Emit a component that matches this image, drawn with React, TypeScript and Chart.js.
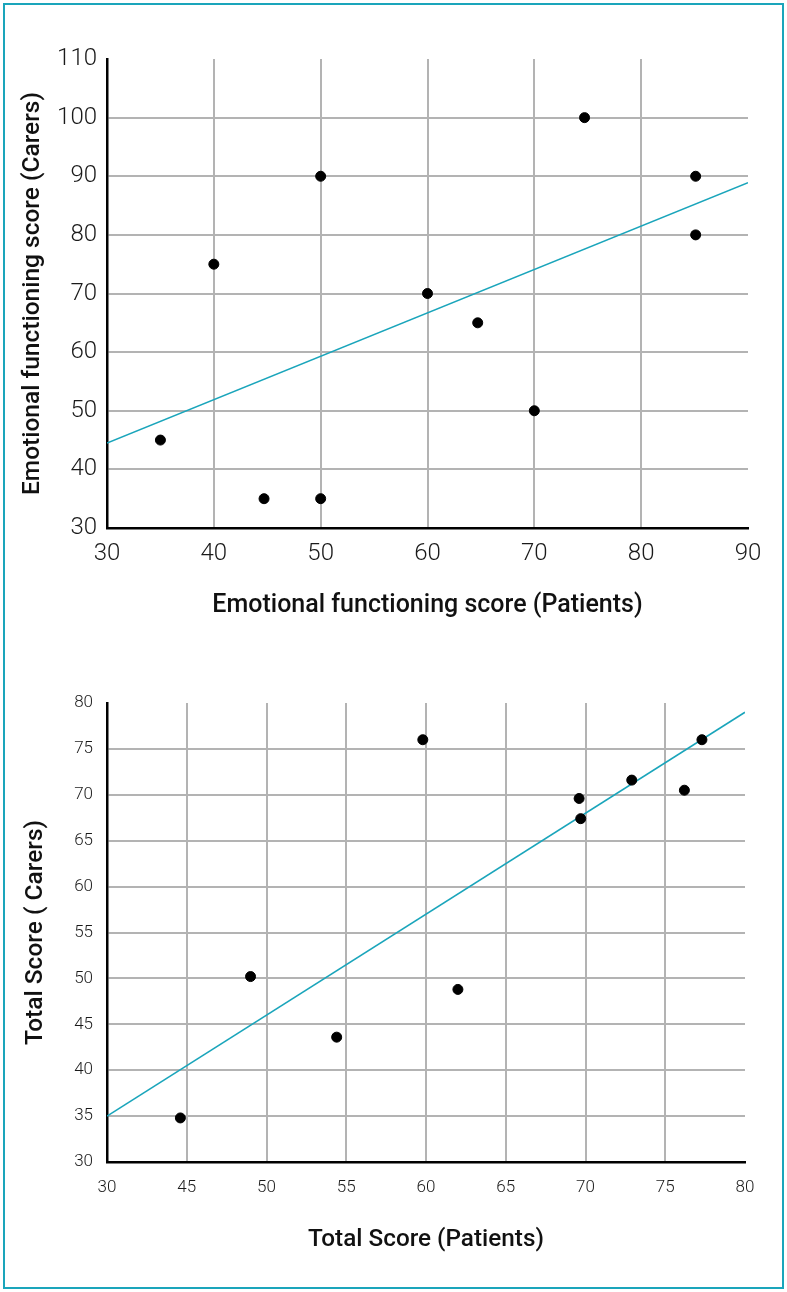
import React, { useEffect, useRef } from "react";
import { Chart, registerables } from "chart.js";

Chart.register(...registerables);

// ---------- Chart 1: Emotional functioning ----------
const topPatients = [35, 40, 44.7, 50, 50, 60, 64.7, 70, 74.7, 85.1, 85.1];
const topCarers = [45, 75, 35, 35, 90, 70, 65, 50, 100, 90, 80];
const topTrendX = [30, 90];
const topTrendY = [44.5, 88.9];
const topXTicks = [30, 40, 50, 60, 70, 80, 90];
const topYTicks = [30, 40, 50, 60, 70, 80, 90, 100, 110];
const topXTitle = "Emotional functioning score (Patients)";
const topYTitle = "Emotional functioning score (Carers)";

// ---------- Chart 2: Total score ----------
const bottomPatients = [44.6, 49, 54.4, 59.8, 62, 69.6, 69.7, 72.9, 76.2, 77.3];
const bottomCarers = [34.8, 50.2, 43.6, 76, 48.8, 69.6, 67.4, 71.6, 70.5, 76];
const bottomTrendX = [40, 80];
const bottomTrendY = [35, 79];
const bottomXTickValues = [40, 45, 50, 55, 60, 65, 70, 75, 80];
const bottomXTickLabels = ["30", "45", "50", "55", "60", "65", "70", "75", "80"];
const bottomYTicks = [30, 35, 40, 45, 50, 55, 60, 65, 70, 75, 80];
const bottomXTitle = "Total Score (Patients)";
const bottomYTitle = "Total Score ( Carers)";

const TEAL = "#1aa5bb";
const GRID = "#b3b3b3";
const FONT = "Roboto, 'Noto Sans', 'DejaVu Sans', sans-serif";

type Cfg = {
  xs: number[];
  ys: number[];
  trendX: number[];
  trendY: number[];
  xTickValues: number[];
  xTickLabels: string[];
  yTickValues: number[];
  xTitle: string;
  yTitle: string;
  xMin: number;
  xMax: number;
  yMin: number;
  yMax: number;
  tickSize: number;
  yAxisWidth: number;
  xAxisHeight: number;
  padTop: number;
  padRight: number;
  yTickPad: number;
  xTickPad: number;
  yTitlePad: number;
  xTitlePad: number;
  xTitleSize: number;
  yTitleSize: number;
};

function makeChart(canvas: HTMLCanvasElement, c: Cfg) {
  return new Chart(canvas, {
    type: "scatter",
    data: {
      datasets: [
        {
          label: "points",
          data: c.xs.map((x, i) => ({ x, y: c.ys[i] })),
          backgroundColor: "#000",
          borderColor: "#000",
          pointRadius: 5,
          pointHoverRadius: 5,
          showLine: false,
        },
        {
          type: "line",
          label: "trend",
          data: c.trendX.map((x, i) => ({ x, y: c.trendY[i] })),
          borderColor: TEAL,
          borderWidth: 1.6,
          pointRadius: 0,
          fill: false,
        } as any,
      ],
    },
    options: {
      animation: false,
      responsive: false,
      events: [],
      layout: {
        padding: { top: c.padTop, right: c.padRight, bottom: 0, left: 0 },
      },
      plugins: {
        legend: { display: false },
        tooltip: { enabled: false },
      },
      scales: {
        x: {
          type: "linear",
          min: c.xMin,
          max: c.xMax,
          afterBuildTicks: (s: any) => {
            s.ticks = c.xTickValues.map((v) => ({ value: v }));
          },
          afterFit: (s: any) => {
            s.height = c.xAxisHeight;
          },
          ticks: {
            autoSkip: false,
            maxRotation: 0,
            padding: c.xTickPad,
            color: "#1a1a1a",
            font: { family: FONT, size: c.tickSize, weight: "300" as any },
            callback: (_v: any, i: number) => c.xTickLabels[i],
          },
          grid: {
            drawTicks: false,
            lineWidth: 2,
            color: (ctx: any) =>
              ctx.tick && ctx.tick.value === c.xMax ? "rgba(0,0,0,0)" : GRID,
          },
          border: { color: "#000", width: 2.5 },
          title: {
            display: true,
            text: c.xTitle,
            color: "#111",
            font: { family: FONT, size: c.xTitleSize, weight: "500" as any },
            padding: { top: 0, bottom: c.xTitlePad },
          },
        },
        y: {
          type: "linear",
          min: c.yMin,
          max: c.yMax,
          afterBuildTicks: (s: any) => {
            s.ticks = c.yTickValues.map((v) => ({ value: v }));
          },
          afterFit: (s: any) => {
            s.width = c.yAxisWidth;
          },
          ticks: {
            autoSkip: false,
            padding: c.yTickPad,
            color: "#1a1a1a",
            font: { family: FONT, size: c.tickSize, weight: "300" as any },
          },
          grid: {
            drawTicks: false,
            lineWidth: 2,
            color: (ctx: any) =>
              ctx.tick && ctx.tick.value === c.yMax ? "rgba(0,0,0,0)" : GRID,
          },
          border: { color: "#000", width: 2.5 },
          title: {
            display: true,
            text: c.yTitle,
            color: "#111",
            font: { family: FONT, size: c.yTitleSize, weight: "500" as any },
            padding: { top: c.yTitlePad, bottom: 0 },
          },
        },
      },
    },
  });
}

export default function App() {
  const topRef = useRef<HTMLCanvasElement>(null);
  const bottomRef = useRef<HTMLCanvasElement>(null);

  useEffect(() => {
    const charts: Chart[] = [];
    if (topRef.current) {
      charts.push(
        makeChart(topRef.current, {
          xs: topPatients,
          ys: topCarers,
          trendX: topTrendX,
          trendY: topTrendY,
          xTickValues: topXTicks,
          xTickLabels: topXTicks.map(String),
          yTickValues: topYTicks,
          xTitle: topXTitle,
          yTitle: topYTitle,
          xMin: 30,
          xMax: 90,
          yMin: 30,
          yMax: 110,
          tickSize: 24,
          yAxisWidth: 107,
          xAxisHeight: 112,
          padTop: 59,
          padRight: 39,
          yTickPad: 10,
          xTickPad: 12,
          yTitlePad: 18,
          xTitlePad: 19,
          xTitleSize: 25,
          yTitleSize: 24.5,
        })
      );
    }
    if (bottomRef.current) {
      charts.push(
        makeChart(bottomRef.current, {
          xs: bottomPatients,
          ys: bottomCarers,
          trendX: bottomTrendX,
          trendY: bottomTrendY,
          xTickValues: bottomXTickValues,
          xTickLabels: bottomXTickLabels,
          yTickValues: bottomYTicks,
          xTitle: bottomXTitle,
          yTitle: bottomYTitle,
          xMin: 40,
          xMax: 80,
          yMin: 30,
          yMax: 80,
          tickSize: 17,
          yAxisWidth: 107,
          xAxisHeight: 130,
          padTop: 63,
          padRight: 42,
          yTickPad: 14,
          xTickPad: 16,
          yTitlePad: 21,
          xTitlePad: 37,
          xTitleSize: 24.3,
          yTitleSize: 24.5,
        })
      );
    }
    return () => charts.forEach((ch) => ch.destroy());
  }, []);

  return (
    <div
      style={{
        position: "absolute",
        left: 0,
        top: 0,
        width: 787,
        height: 1292,
        background: "#fff",
        overflow: "hidden",
      }}
    >
      <div
        style={{
          position: "absolute",
          left: 3,
          top: 3,
          width: 777,
          height: 1282,
          border: `2px solid ${TEAL}`,
          pointerEvents: "none",
          zIndex: 2,
        }}
      />
      <canvas
        ref={topRef}
        width={787}
        height={640}
        style={{ position: "absolute", left: 0, top: 0, width: 787, height: 640 }}
      />
      <canvas
        ref={bottomRef}
        width={787}
        height={652}
        style={{ position: "absolute", left: 0, top: 640, width: 787, height: 652 }}
      />
    </div>
  );
}
